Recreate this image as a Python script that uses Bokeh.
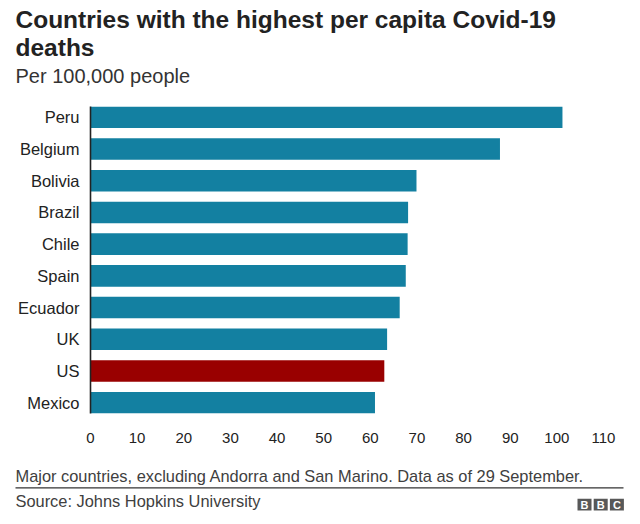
from bokeh.plotting import figure
from bokeh.layouts import column
from bokeh.models import ColumnDataSource, FactorRange, Range1d, FixedTicker, Label, BoxAnnotation
from bokeh.embed import file_html
from bokeh.resources import INLINE

countries = ["Peru", "Belgium", "Bolivia", "Brazil", "Chile", "Spain", "Ecuador", "UK", "US", "Mexico"]
deaths = [101.2, 87.8, 69.9, 68.1, 68.0, 67.6, 66.3, 63.6, 63.0, 61.0]
highlight = "US"
tick_values = [0, 10, 20, 30, 40, 50, 60, 70, 80, 90, 100, 110]

title_lines = ["Countries with the highest per capita Covid-19", "deaths"]
subtitle = "Per 100,000 people"
note = "Major countries, excluding Andorra and San Marino. Data as of 29 September."
source_text = "Source: Johns Hopkins University"

TEAL = "#1380A1"
RED = "#990000"
colors = [RED if c == highlight else TEAL for c in countries]

FONT = "Liberation Sans"
W = 640
H_TOP, H_MAIN, H_BOT = 95, 365, 64
BASE_SHIFT = 0.35  # empirical correction of Bokeh's alphabetic baseline placement


def blank_fig(y0, y1):
    f = figure(width=W, height=y1 - y0, x_range=Range1d(0, W), y_range=Range1d(y1, y0),
               x_axis_location=None, y_axis_location=None,
               min_border=0, min_border_left=0, min_border_right=0,
               min_border_top=0, min_border_bottom=0,
               toolbar_location=None, output_backend="svg")
    f.frame_align = False
    f.outline_line_color = None
    f.grid.visible = False
    f.background_fill_color = "white"
    f.border_fill_color = "white"
    return f


def add_text(f, text, x, y_base, size, color, bold=False, align="left"):
    f.add_layout(Label(x=x, y=y_base - BASE_SHIFT * size, text=text, text_font=FONT,
                       text_font_size=f"{size}px",
                       text_font_style="bold" if bold else "normal",
                       text_color=color, text_baseline="alphabetic", text_align=align))


def add_box(f, l, r, t, b, color):
    f.add_layout(BoxAnnotation(left=l, right=r, top=t, bottom=b,
                               fill_color=color, fill_alpha=1, line_color=None))


# ---- header ----
header = blank_fig(0, H_TOP)
add_text(header, title_lines[0], 15, 28, 24.5, "#222222", bold=True)
add_text(header, title_lines[1], 15, 55.5, 24.5, "#222222", bold=True)
add_text(header, subtitle, 15, 82.7, 20, "#333333")

# ---- main chart ----
source = ColumnDataSource(data=dict(country=countries, deaths=deaths, color=colors))
p = figure(
    width=W, height=H_MAIN,
    y_range=FactorRange(factors=list(reversed(countries)), range_padding=-0.16,
                        range_padding_units="absolute"),
    x_range=Range1d(0, 110),
    output_backend="svg", toolbar_location=None,
    min_border_left=90, min_border_right=37, min_border_top=11, min_border_bottom=47,
)
p.frame_align = False
p.outline_line_color = None
p.background_fill_color = "white"
p.border_fill_color = "white"
p.xgrid.grid_line_color = None
p.ygrid.grid_line_color = None

p.hbar(y="country", left=0, right="deaths", height=0.68, fill_color="color",
       line_color=None, source=source)

p.xaxis.ticker = FixedTicker(ticks=tick_values)
p.xaxis.axis_line_color = None
p.xaxis.major_tick_line_color = None
p.xaxis.minor_tick_line_color = None
p.xaxis.major_tick_out = 0
p.xaxis.major_label_standoff = 19
p.xaxis.major_label_text_font = FONT
p.xaxis.major_label_text_font_size = "15px"
p.xaxis.major_label_text_color = "#222222"

p.yaxis.axis_line_color = "#222222"
p.yaxis.axis_line_width = 1.6
p.yaxis.major_tick_line_color = None
p.yaxis.minor_tick_line_color = None
p.yaxis.major_tick_out = 0
p.yaxis.major_label_standoff = 11
p.yaxis.major_label_text_font = FONT
p.yaxis.major_label_text_font_size = "16.5px"
p.yaxis.major_label_text_color = "#222222"

# ---- footer ----
y0 = H_TOP + H_MAIN
footer = blank_fig(y0, y0 + H_BOT)
add_text(footer, note, 15, 481.5, 16.4, "#404040")
add_box(footer, 15, 623, 486.7, 487.9, "#333333")
add_text(footer, source_text, 15, 506, 16.4, "#404040")
for i, letter in enumerate(["B", "B", "C"]):
    x0 = 577 + i * 16.2
    add_box(footer, x0, x0 + 14, 498.3, 510, "#585858")
    add_text(footer, letter, x0 + 7, 508.2, 11, "white", bold=True, align="center")

layout = column(header, p, footer, spacing=0)
open("out.html", "w").write(file_html(layout, INLINE))
